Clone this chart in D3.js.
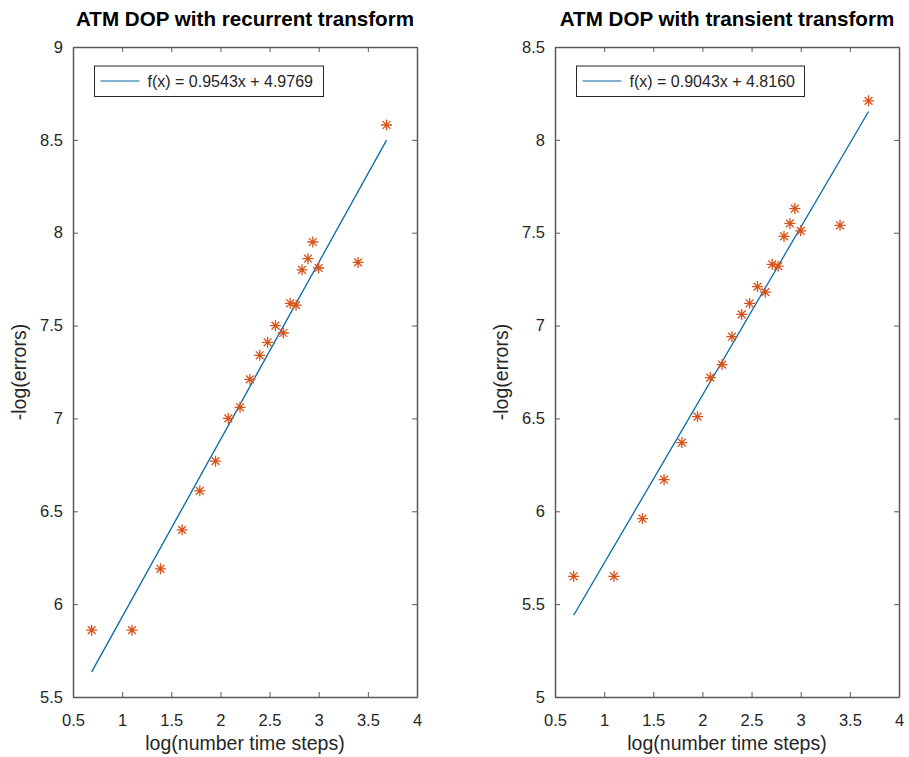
<!DOCTYPE html>
<html>
<head>
<meta charset="utf-8">
<script src="https://cdn.jsdelivr.net/npm/d3@7"></script>
<style>
  html, body { margin: 0; padding: 0; background: #fff; }
  svg { display: block; font-family: "Liberation Sans", Arial, Helvetica, sans-serif; }
</style>
</head>
<body>
<div id="chart"></div>
<script>
// log(number time steps) for each run
const logSteps = [0.69, 1.10, 1.39, 1.61, 1.79, 1.95, 2.08, 2.20, 2.30, 2.40, 2.48,
                  2.56, 2.64, 2.71, 2.77, 2.83, 2.89, 2.94, 3.00, 3.40, 3.69];

// -log(errors), recurrent transform
const recurrentErr = [5.86, 5.86, 6.19, 6.40, 6.61, 6.77, 7.00, 7.06, 7.21, 7.34, 7.41,
                      7.50, 7.46, 7.62, 7.61, 7.80, 7.86, 7.95, 7.81, 7.84, 8.58];

// -log(errors), transient transform
const transientErr = [5.65, 5.65, 5.96, 6.17, 6.37, 6.51, 6.72, 6.79, 6.94, 7.06, 7.12,
                      7.21, 7.18, 7.33, 7.32, 7.48, 7.55, 7.63, 7.51, 7.54, 8.21];

// fitted lines f(x) = a x + b
const recurrentFit = { a: 0.9543, b: 4.9769 };
const transientFit = { a: 0.9043, b: 4.8160 };

const xTicks = [0.5, 1, 1.5, 2, 2.5, 3, 3.5, 4];
const recurrentYTicks = [5.5, 6, 6.5, 7, 7.5, 8, 8.5, 9];
const transientYTicks = [5, 5.5, 6, 6.5, 7, 7.5, 8, 8.5];

const W = 909, H = 757;
const svg = d3.select("#chart").append("svg").attr("width", W).attr("height", H);

const AX = "#5a5a5a";
const TXT = "#262626";
const LINE = "#0868a8";
const MARK = "#D95319";

function drawPanel(opt) {
  const x = d3.scaleLinear().domain([0.5, 4]).range([opt.left, opt.left + 344]);
  const y = d3.scaleLinear().domain(d3.extent(opt.yTicks)).range([697, 47]);
  const g = svg.append("g");

  const fmt = d => String(d);

  // box + inward ticks
  const bottom = g.append("g").attr("transform", "translate(0,697)")
    .call(d3.axisBottom(x).tickValues(xTicks).tickFormat(fmt).tickSizeInner(-5).tickSizeOuter(0).tickPadding(17));
  const top = g.append("g").attr("transform", "translate(0,47)")
    .call(d3.axisTop(x).tickValues(xTicks).tickFormat("").tickSizeInner(-5).tickSizeOuter(0));
  const left = g.append("g").attr("transform", `translate(${opt.left},0)`)
    .call(d3.axisLeft(y).tickValues(opt.yTicks).tickFormat(fmt).tickSizeInner(-5).tickSizeOuter(0).tickPadding(10));
  const right = g.append("g").attr("transform", `translate(${opt.left + 344},0)`)
    .call(d3.axisRight(y).tickValues(opt.yTicks).tickFormat("").tickSizeInner(-5).tickSizeOuter(0));

  [bottom, top, left, right].forEach(a => {
    a.select(".domain").attr("stroke", AX).attr("stroke-width", 1.5);
    a.selectAll(".tick line").attr("stroke", AX).attr("stroke-width", 1);
    a.selectAll("text").attr("fill", TXT).style("font-size", "16.5px");
  });

  // fit line over the data range
  const x0 = d3.min(logSteps), x1 = d3.max(logSteps);
  g.append("line")
    .attr("x1", x(x0)).attr("y1", y(opt.fit.a * x0 + opt.fit.b))
    .attr("x2", x(x1)).attr("y2", y(opt.fit.a * x1 + opt.fit.b))
    .attr("stroke", LINE).attr("stroke-width", 1.3);

  // asterisk markers
  const r = 5.5, d = 3.9;
  const star = `M${-r},0H${r}M0,${-r}V${r}M${-d},${-d}L${d},${d}M${-d},${d}L${d},${-d}`;
  g.append("g").selectAll("path")
    .data(logSteps.map((v, i) => [v, opt.errs[i]]))
    .enter().append("path")
    .attr("transform", p => `translate(${x(p[0])},${y(p[1])})`)
    .attr("d", star)
    .attr("fill", "none").attr("stroke", MARK).attr("stroke-width", 1.3);

  // legend
  const lx = opt.left + 21.5, ly = 66;
  g.append("rect").attr("x", lx).attr("y", ly).attr("width", opt.legendW).attr("height", 30.5)
    .attr("fill", "#fff").attr("stroke", TXT).attr("stroke-width", 1);
  g.append("line").attr("x1", lx + 6).attr("x2", lx + 45).attr("y1", ly + 15).attr("y2", ly + 15)
    .attr("stroke", LINE).attr("stroke-width", 1.2);
  g.append("text").attr("x", lx + 53).attr("y", ly + 20.5)
    .style("font-size", "16px").attr("fill", TXT)
    .text(`f(x) = ${opt.fit.a.toFixed(4)}x + ${opt.fit.b.toFixed(4)}`);

  // title + labels
  g.append("text").attr("x", opt.left + 172).attr("y", 26).attr("text-anchor", "middle")
    .style("font-size", "20.6px").style("font-weight", "bold").attr("fill", "#000")
    .text(opt.title);
  g.append("text").attr("x", opt.left + 172).attr("y", 750).attr("text-anchor", "middle")
    .style("font-size", "19.5px").attr("fill", TXT)
    .text("log(number time steps)");
  g.append("text").attr("transform", `translate(${opt.left - 47},372) rotate(-90)`)
    .attr("text-anchor", "middle")
    .style("font-size", "19.5px").attr("fill", TXT)
    .text("-log(errors)");
}

drawPanel({ left: 73, yTicks: recurrentYTicks, errs: recurrentErr, fit: recurrentFit,
            legendW: 229, title: "ATM DOP with recurrent transform" });
drawPanel({ left: 555, yTicks: transientYTicks, errs: transientErr, fit: transientFit,
            legendW: 228, title: "ATM DOP with transient transform" });
</script>
</body>
</html>
